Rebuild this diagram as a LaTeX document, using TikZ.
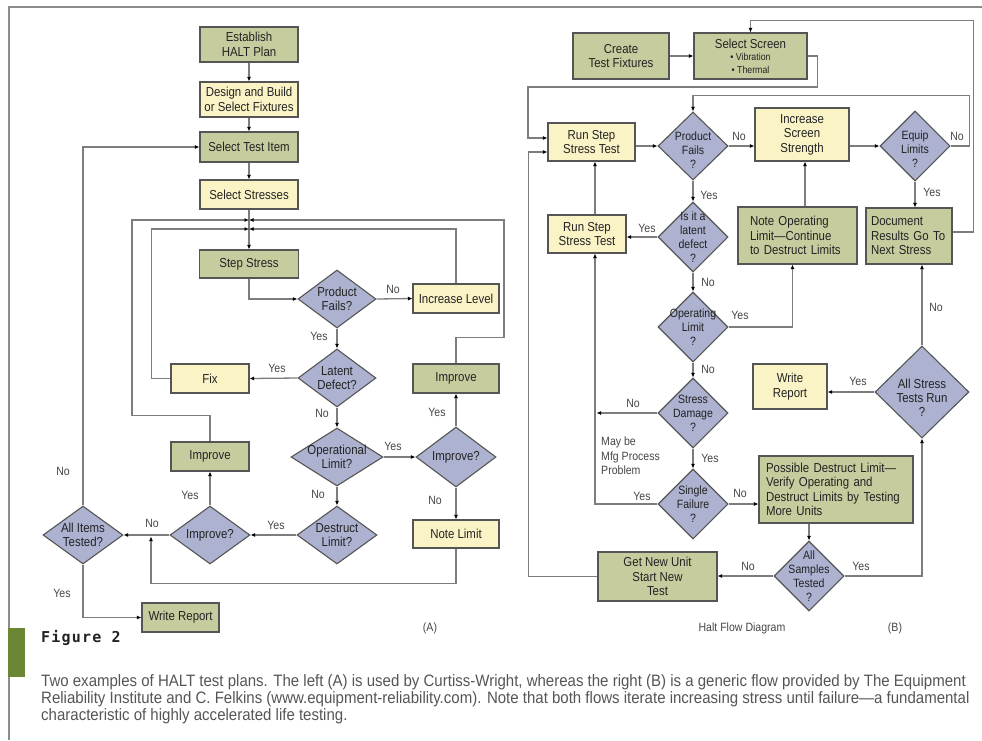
\documentclass[tikz,border=0pt]{standalone}
\usepackage{fontspec}
\setmainfont{Liberation Sans}
\newfontfamily\dfont[FakeStretch=0.88]{Liberation Sans}
\newfontfamily\capfont[FakeStretch=0.91]{Liberation Sans}
\newfontfamily\figfont[LetterSpace=8]{DejaVu Sans Mono}
\usetikzlibrary{shapes.geometric,arrows.meta,calc}
\definecolor{boxgreen}{RGB}{199,204,158}
\definecolor{boxyel}{RGB}{249,243,198}
\definecolor{diac}{RGB}{172,178,208}
\definecolor{bordc}{RGB}{85,85,85}
\definecolor{connc}{RGB}{125,125,125}
\definecolor{txtc}{RGB}{35,35,35}
\definecolor{labc}{RGB}{70,70,70}
\definecolor{capc}{RGB}{85,85,85}
\definecolor{framec}{RGB}{140,140,140}
\definecolor{barc}{RGB}{107,135,52}
\tikzset{
  base/.style={draw=bordc, line width=1.1pt, inner sep=0pt, rectangle,
    font=\dfont\fontsize{13}{14.5}\selectfont, text=txtc, align=center},
  gbox/.style={base, fill=boxgreen},
  ybox/.style={base, fill=boxyel},
  dia/.style={draw=bordc, line width=1.1pt, fill=diac, diamond, inner sep=0pt},
  dtxt/.style={font=\dfont\fontsize{13}{14.2}\selectfont, text=txtc, align=center, inner sep=0pt},
  dtxtB/.style={font=\dfont\fontsize{12}{13.8}\selectfont, text=txtc, align=center, inner sep=0pt},
  conn/.style={draw=connc, line width=1.3pt, -{Latex[length=4.5pt,width=4pt,color=black]}},
  lab/.style={font=\dfont\fontsize{12}{14.5}\selectfont, text=labc, inner sep=0pt},
  frame/.style={draw=framec, line width=2.5pt},
}
\begin{document}
\begin{tikzpicture}[x=1pt,y=-1pt]
\useasboundingbox (0,0) rectangle (982,740);
% frame
\draw[frame] (982,7) -- (9,7) -- (9,740);
\fill[barc] (8,628) rectangle (25,677);

% ---------------- (A) ----------------
\node[gbox, minimum width=98pt, minimum height=35pt] (est) at (249,44.5) {Establish\\HALT Plan};
\node[ybox, minimum width=98pt, minimum height=35pt] (dbf) at (249,99.5) {Design and Build\\or Select Fixtures};
\node[gbox, minimum width=98pt, minimum height=30pt] (sti) at (249,147) {Select Test Item};
\node[ybox, minimum width=98pt, minimum height=29pt] (sst) at (249,194.5) {Select Stresses};
\coordinate (j1) at (249,220);
\coordinate (j2) at (249,229);
\node[gbox, minimum width=99pt, minimum height=28pt] (step) at (249,264) {Step Stress};
\node[dia, minimum width=78pt, minimum height=58pt] (pf) at (337,299) {};
\node[dtxt] (pft) at (pf) {Product\\Fails?};
\node[ybox, minimum width=86pt, minimum height=29pt] (incl) at (456,298.5) {Increase Level};
\node[dia, minimum width=78pt, minimum height=58pt] (lat) at (337,378) {};
\node[dtxt] (latt) at (lat) {Latent\\Defect?};
\node[ybox, minimum width=78pt, minimum height=29pt] (fix) at (210,378.5) {Fix};
\node[gbox, minimum width=86pt, minimum height=29pt] (impR) at (456,378.5) {Improve};
\node[dia, minimum width=92pt, minimum height=58pt] (opl) at (337,457) {};
\node[dtxt] (oplt) at (opl) {Operational\\Limit?};
\node[dia, minimum width=80pt, minimum height=60pt] (iqR) at (456,457) {};
\node[dtxt] (iqRt) at (iqR) {Improve?};
\node[ybox, minimum width=86pt, minimum height=28pt] (note) at (456,534) {Note Limit};
\node[dia, minimum width=80pt, minimum height=58pt] (des) at (337,535) {};
\node[dtxt] (dest) at (des) {Destruct\\Limit?};
\node[dia, minimum width=80pt, minimum height=58pt] (iqL) at (210,535) {};
\node[dtxt] (iqLt) at (iqL) {Improve?};
\node[gbox, minimum width=78pt, minimum height=29pt] (impL) at (210,456.5) {Improve};
\node[dia, minimum width=80pt, minimum height=58pt] (all) at (83,535) {};
\node[dtxt] (allt) at (all) {All Items\\Tested?};
\node[gbox, minimum width=77pt, minimum height=29pt] (wr) at (180.5,617.5) {Write Report};
\coordinate (jn) at (151,536.5);

\draw[conn] (est.south) -- (dbf.north);
\draw[conn] (dbf.south) -- (sti.north);
\draw[conn] (sti.south) -- (sst.north);
\draw[conn] (sst.south) -- (step.north);
\draw[conn] (fix.west) -- ++(-19,0) |- (j2);
\draw[conn] (incl.north) |- (j2);
\draw[conn] (impL.north) -- ++(0,-26) -| ([xshift=-117pt]j1) -- (j1);
\draw[conn] (impR.north) -- ++(0,-26) -| ([xshift=255pt]j1) -- (j1);
\draw[conn] (step.south) |- (pf.west);
\draw[conn] (pf.east) -- (incl.west);
\draw[conn] (pf.south) -- (lat.north);
\draw[conn] (lat.west) -- (fix.east);
\draw[conn] (lat.south) -- (opl.north);
\draw[conn] (opl.east) -- (iqR.west);
\draw[conn] (iqR.north) -- (impR.south);
\draw[conn] (iqR.south) -- (note.north);
\draw[conn] (opl.south) -- (des.north);
\draw[conn] (des.west) -- (iqL.east);
\draw[conn] (iqL.north) -- (impL.south);
\draw[conn] (iqL.west) -- (all.east);
\draw[conn] (note.south) -- ++(0,35) -| (jn);
\draw[conn] (all.north) |- (sti.west);
\draw[conn] (all.south) |- (wr.west);

\node[lab] (a1) at (393,289) {No};
\node[lab] (a2) at (319,336) {Yes};
\node[lab] (a3) at (277,368) {Yes};
\node[lab] (a4) at (322,413) {No};
\node[lab] (a5) at (393,446) {Yes};
\node[lab] (a6) at (437,412) {Yes};
\node[lab] (a7) at (435,500) {No};
\node[lab] (a8) at (318,494) {No};
\node[lab] (a9) at (276,525) {Yes};
\node[lab] (a10) at (190,495) {Yes};
\node[lab] (a11) at (152,523) {No};
\node[lab] (a12) at (63,471) {No};
\node[lab] (a13) at (62,593) {Yes};
\node[lab] (capA) at (430,628) {(A)};

% ---------------- (B) ----------------
\node[gbox, minimum width=96pt, minimum height=46pt] (ctf) at (621,56) {Create\\Test Fixtures};
\node[gbox, minimum width=113pt, minimum height=46pt] (ss) at (750.5,56)
  {Select Screen\\[-2pt]{\fontsize{10}{11.5}\selectfont\textbullet\ Vibration}\\[-2pt]{\fontsize{10}{11.5}\selectfont\textbullet\ Thermal}};
\node[ybox, minimum width=87pt, minimum height=38pt] (rs1) at (591.5,142) {Run Step\\Stress Test};
\node[dia, minimum width=70pt, minimum height=68pt] (pfB) at (693,146) {};
\node[dtxtB] (pfBt) at ([yshift=-4pt]pfB.center) {Product\\Fails\\?};
\node[ybox, minimum width=94pt, minimum height=53pt] (iss) at (802,134.5) {Increase\\Screen\\Strength};
\node[dia, minimum width=70pt, minimum height=70pt] (eq) at (915,146) {};
\node[dtxtB] (eqt) at ([yshift=-3pt]eq.center) {Equip\\Limits\\?};
\node[dia, minimum width=70pt, minimum height=70pt] (lat2) at (693,237) {};
\node[dtxtB] (lat2t) at (lat2) {Is it a\\latent\\defect\\?};
\node[ybox, minimum width=78pt, minimum height=38pt] (rs2) at (587,234) {Run Step\\Stress Test};
\node[gbox, minimum width=119pt, minimum height=57pt, text width=95pt, inner xsep=12pt, align=left] (nol) at (797.5,235.5) {Note Operating\\Limit—Continue\\to Destruct Limits};
\node[gbox, minimum width=86pt, minimum height=56pt, text width=76pt, inner xsep=5pt, align=left] (doc) at (909,236) {Document\\Results Go To\\Next Stress};
\node[dia, minimum width=70pt, minimum height=70pt] (opB) at (693,327) {};
\node[dtxtB] (opBt) at (opB) {Operating\\Limit\\?};
\node[dia, minimum width=70pt, minimum height=70pt] (sd) at (693,413) {};
\node[dtxtB] (sdt) at (sd) {Stress\\Damage\\?};
\node[ybox, minimum width=74pt, minimum height=45pt] (wrB) at (790,386.5) {Write\\Report};
\node[dia, minimum width=94pt, minimum height=92pt] (asr) at (922,392) {};
\node[dtxt] (asrt) at ([yshift=-6pt]asr.center) {All Stress\\Tests Run\\?};
\node[dia, minimum width=70pt, minimum height=70pt] (sf) at (693,504) {};
\node[dtxtB] (sft) at (sf) {Single\\Failure\\?};
\node[gbox, minimum width=154pt, minimum height=67pt, text width=140pt, inner xsep=7pt, align=left] (pdl) at (836,489.5) {Possible Destruct Limit—\\Verify Operating and\\Destruct Limits by Testing\\More Units};
\node[dia, minimum width=70pt, minimum height=70pt] (ast) at (809,576) {};
\node[dtxtB] (astt) at (ast) {All\\Samples\\Tested\\?};
\node[gbox, minimum width=119pt, minimum height=49pt] (gnu) at (657.5,576.5) {Get New Unit\\Start New\\Test};
\coordinate (jd) at (596.5,413);

\draw[conn] (ctf.east) -- (ss.west);
\draw[conn] (ss.east) -- ++(10,0) |- (528,87) |- ([yshift=4pt]rs1.west);
\draw[conn] (gnu.west) -| ([xshift=-19pt,yshift=-10pt]rs1.west) -- ([yshift=-10pt]rs1.west);
\draw[conn] (rs1.east |- pfB.west) -- (pfB.west);
\draw[conn] (pfB.east) -- (pfB.east -| iss.west);
\draw[conn] (iss.east |- eq.west) -- (eq.west);
\draw[conn] (eq.east) -- ++(19,0) |- ([yshift=16pt]pfB.north) -- (pfB.north);
\draw[conn] (eq.south) -- (eq.south |- doc.north);
\draw[conn] ([yshift=4pt]doc.east) -- ++(21,0) |- ([yshift=12pt]ss.north) -- (ss.north);
\draw[conn] (pfB.south) -- (lat2.north);
\draw[conn] (lat2.west) -- (lat2.west -| rs2.east);
\draw[conn] ([xshift=8pt]rs2.north) -- ([xshift=3.5pt]rs1.south);
\draw[conn] (sd.west) -- (jd);
\draw[conn] (sf.west) -| ([xshift=8pt]rs2.south);
\draw[conn] (lat2.south) -- (opB.north);
\draw[conn] (opB.east) -| ([xshift=-5pt]nol.south);
\draw[conn] ([xshift=7.5pt]nol.north) -- ([xshift=3pt]iss.south);
\draw[conn] (opB.south) -- (sd.north);
\draw[conn] (sd.south) -- (sf.north);
\draw[conn] (sf.east) -- (sf.east -| pdl.west);
\draw[conn] (ast.north |- pdl.south) -- (ast.north);
\draw[conn] (ast.west) -- (ast.west -| gnu.east);
\draw[conn] (ast.east) -| (asr.south);
\draw[conn] (asr.west) -- (asr.west -| wrB.east);
\draw[conn] (asr.north) -- (asr.north |- doc.south);

\node[lab] (b1) at (739,136) {No};
\node[lab] (b2) at (957,136) {No};
\node[lab] (b3) at (932,192) {Yes};
\node[lab] (b4) at (709,195) {Yes};
\node[lab] (b5) at (647,228) {Yes};
\node[lab] (b6) at (708,282) {No};
\node[lab] (b7) at (740,315) {Yes};
\node[lab] (b8) at (708,369) {No};
\node[lab] (b9) at (633,403) {No};
\node[lab] (b10) at (710,458) {Yes};
\node[lab] (b11) at (642,496) {Yes};
\node[lab] (b12) at (740,493) {No};
\node[lab] (b13) at (748,566) {No};
\node[lab] (b14) at (861,566) {Yes};
\node[lab] (b15) at (858,381) {Yes};
\node[lab] (b16) at (936,307) {No};
\node[lab, anchor=north west, align=left] (mfg) at (601,437) {May be\\Mfg Process\\Problem};
\node[lab] (hfd) at (742,628) {Halt Flow Diagram};
\node[lab] (capB) at (895,628) {(B)};

% ---------------- caption ----------------
\node[anchor=west, inner sep=0pt, text=txtc, font=\figfont\bfseries\fontsize{15}{16}\selectfont] (fig) at (41,638) {Figure 2};
\node[anchor=west, inner sep=0pt, text=capc, font=\capfont\fontsize{16.5}{20}\selectfont] (c1) at (41,682) {Two examples of HALT test plans. The left (A) is used by Curtiss-Wright, whereas the right (B) is a generic flow provided by The Equipment};
\node[anchor=west, inner sep=0pt, text=capc, font=\capfont\fontsize{16.5}{20}\selectfont] (c2) at (41,699) {Reliability Institute and C. Felkins (www.equipment-reliability.com). Note that both flows iterate increasing stress until failure—a fundamental};
\node[anchor=west, inner sep=0pt, text=capc, font=\capfont\fontsize{16.5}{20}\selectfont] (c3) at (41,716) {characteristic of highly accelerated life testing.};
\end{tikzpicture}
\end{document}
